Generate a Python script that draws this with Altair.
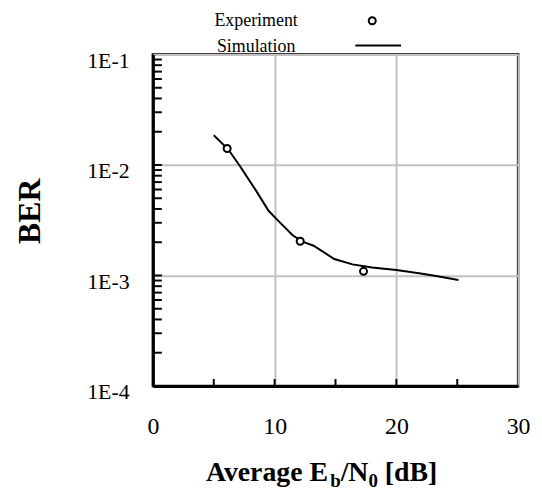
import altair as alt
import pandas as pd

# ---------------- data ----------------
exp_x = [6.1, 12.1, 17.3]
exp_y = [0.0141, 0.00204, 0.00109]

sim_x = [5.0, 6.2, 7.2, 8.5, 9.5, 10.2, 11.5, 12.4, 13.2, 14.9, 16.4, 18.0, 20.0, 22.0, 23.5, 25.1]
sim_y = [0.0186, 0.0138, 0.0096, 0.0058, 0.00385, 0.0032, 0.0023, 0.0020, 0.00186, 0.00141,
         0.00126, 0.00118, 0.00112, 0.00104, 0.00098, 0.00091]

x_ticks_labels = [0, 10, 20, 30]
x_minor_ticks = [5, 10, 15, 20, 25]
y_ticks_labels = [1e-4, 1e-3, 1e-2, 1e-1]
y_minor_ticks = [k * 10.0 ** d for d in (-4, -3, -2) for k in range(1, 10)]

legend_labels = ["Experiment", "Simulation"]
x_title_parts = ["Average E", "b", "/N", "0", "[dB]"]
y_title = "BER"

W, H = 368, 334
FONT = "Liberation Serif"

exp_df = pd.DataFrame({"x": exp_x, "y": exp_y})
sim_df = pd.DataFrame({"x": sim_x, "y": sim_y})

xscale = alt.Scale(domain=[0, 30], nice=False, zero=False)
yscale = alt.Scale(type="log", domain=[1e-4, 1e-1], nice=False)

xenc = alt.X("x:Q", scale=xscale,
             axis=alt.Axis(values=x_ticks_labels, title=None, ticks=False, tickSize=0,
                           labelPadding=29, labelFontSize=24, grid=True))
yenc = alt.Y("y:Q", scale=yscale,
             axis=alt.Axis(values=y_ticks_labels, title=None, ticks=False, tickSize=0,
                           labelPadding=24, labelFontSize=22, labelOffset=6, grid=True,
                           labelExpr="'1E' + round(log(datum.value) / LN10)"))

line = alt.Chart(sim_df).mark_line(color="black", strokeWidth=2).encode(x=xenc, y=yenc)

points = alt.Chart(exp_df).mark_point(shape="circle", filled=True, fill="white",
                                      stroke="black", strokeWidth=2, size=50,
                                      opacity=1).encode(x="x:Q", y="y:Q")

ytick_df = pd.DataFrame({"y": y_minor_ticks})
yticks = alt.Chart(ytick_df).mark_rule(color="black", strokeWidth=2).encode(
    y="y:Q", x=alt.value(0), x2=alt.value(9))

xtick_df = pd.DataFrame({"x": x_minor_ticks})
xticks = alt.Chart(xtick_df).mark_rule(color="black", strokeWidth=2).encode(
    x="x:Q", y=alt.value(H), y2=alt.value(H - 7))

# ---- x-axis title with subscripts, laid out left to right ----
TB = {'A': 722, 'v': 500, 'e': 444, 'r': 444, 'a': 500, 'g': 500, ' ': 250, 'E': 667,
      'b': 556, '/': 278, 'N': 722, '0': 500, '[': 333, 'd': 556, 'B': 667, ']': 333}
sizes = [28, 19, 28, 19, 28]
dys = [0, 6, 0, 6, 0]
gaps = [0, 0, 0, 0, 250 * 28 / 1000]
widths = [sum(TB[c] for c in t) * s / 1000 for t, s in zip(x_title_parts, sizes)]
total = sum(widths) + sum(gaps)
cx = 170
pos = []
cur = cx - total / 2
for w, g in zip(widths, gaps):
    cur += g
    pos.append(cur)
    cur += w
title_layers = []
for t, p, s, dy in zip(x_title_parts, pos, sizes, dys):
    title_layers.append(
        alt.Chart(pd.DataFrame({"t": [t]})).mark_text(
            font=FONT, fontWeight="bold", fontSize=s, align="left", baseline="alphabetic",
            color="black").encode(text="t:N", x=alt.value(p), y=alt.value(430 + dy)))

ytitle = alt.Chart(pd.DataFrame({"t": [y_title]})).mark_text(
    font=FONT, fontWeight="bold", fontSize=32, angle=270, align="center",
    baseline="middle", color="black").encode(text="t:N", x=alt.value(-124), y=alt.value(158))

# ---- legend ----
leg_df = pd.DataFrame({"t": legend_labels, "yy": [-29, -3]})
leg_text = alt.Chart(leg_df).mark_text(
    font=FONT, fontSize=18, align="center", baseline="alphabetic", color="black").encode(
    text="t:N", x=alt.value(104), y=alt.Y("yy:Q", scale=None))
leg_pt = alt.Chart(pd.DataFrame({"t": [legend_labels[0]]})).mark_point(
    shape="circle", filled=True, fill="white", stroke="black", strokeWidth=2, size=50,
    opacity=1).encode(x=alt.value(221), y=alt.value(-34))
leg_line = alt.Chart(pd.DataFrame({"t": [legend_labels[1]]})).mark_rule(
    color="black", strokeWidth=2).encode(x=alt.value(204), x2=alt.value(250), y=alt.value(-9))

chart = alt.layer(line, points, yticks, xticks, ytitle, leg_text, leg_pt, leg_line,
                  *title_layers).properties(
    width=W, height=H,
    autosize=alt.AutoSizeParams(type="none"),
    padding={"left": 146, "top": 45, "right": 16, "bottom": 106},
    background="white",
).configure_view(stroke="black", strokeWidth=2.5).configure_axis(
    labelFont=FONT, labelColor="black", domainColor="black", domainWidth=3,
    gridColor="#c0c0c0", gridWidth=2, labelFlush=False, labelOverlap=False
)

chart.save("out.html", embed_options={"renderer": "svg", "actions": False})
